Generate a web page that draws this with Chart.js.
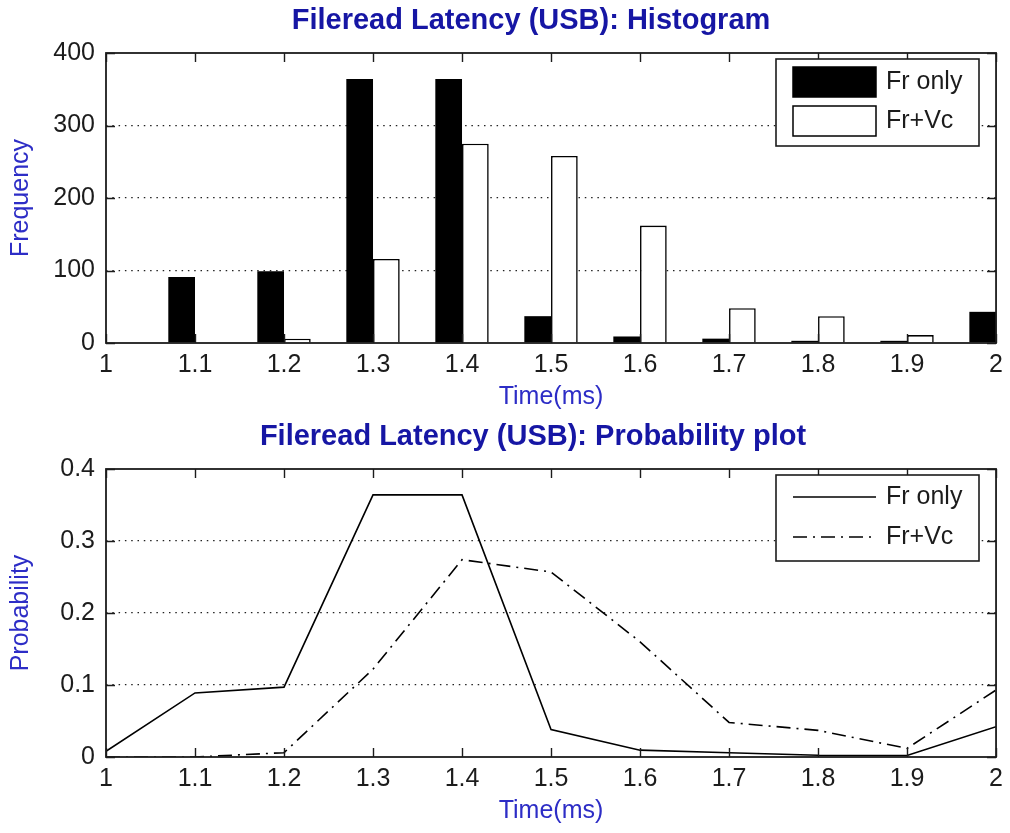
<!DOCTYPE html>
<html>
<head>
<meta charset="utf-8">
<title>Fileread Latency (USB)</title>
<script src="https://cdn.jsdelivr.net/npm/chart.js@4.4.0/dist/chart.umd.min.js"></script>
<style>
    html, body { margin: 0; padding: 0; background: #fff; }
    #wrap { position: relative; width: 1010px; height: 833px; }
    .panel { position: absolute; left: 0; width: 1010px; }
    #hist-panel { top: 0; height: 415px; }
    #prob-panel { top: 415px; height: 418px; }
    canvas { display: block; }
</style>
</head>
<body>
<div id="wrap">
    <div class="panel" id="hist-panel"><canvas id="chart-hist" width="1010" height="415"></canvas></div>
    <div class="panel" id="prob-panel"><canvas id="chart-prob" width="1010" height="418"></canvas></div>
</div>
<script>
// Latency bins (ms)
const timeBins = [1.0, 1.1, 1.2, 1.3, 1.4, 1.5, 1.6, 1.7, 1.8, 1.9, 2.0];
const timeTickLabels = ['1', '1.1', '1.2', '1.3', '1.4', '1.5', '1.6', '1.7', '1.8', '1.9', '2'];
const freqTickLabels = ['0', '100', '200', '300', '400'];
const probTickLabels = ['0', '0.1', '0.2', '0.3', '0.4'];
const seriesNames = ['Fr only', 'Fr+Vc'];

// Histogram counts per bin
const frOnlyCounts = [8, 91, 99, 364, 364, 37, 9, 6, 3, 3, 43];
const frVcCounts = [0, 0, 6, 116, 275, 258, 162, 48, 37, 11, 94];

// Probability per bin
const frOnlyProb = [0.008, 0.089, 0.097, 0.364, 0.364, 0.038, 0.0095, 0.006, 0.0025, 0.002, 0.042];
const frVcProb = [0, 0, 0.006, 0.122, 0.274, 0.257, 0.16, 0.048, 0.037, 0.012, 0.093];

const TITLE_BLUE = '#1616a4';
const LABEL_BLUE = '#2d2dc6';
const INK = '#1c1c1c';
const FONT = "'Liberation Sans', Arial, sans-serif";

Chart.defaults.font.family = FONT;
Chart.defaults.color = INK;

function points(ys) {
    return timeBins.map((t, i) => ({ x: t, y: ys[i] }));
}

// Bold blue heading above each panel
const panelTitle = {
    id: 'panelTitle',
    afterDraw(chart, args, opts) {
        const ctx = chart.ctx;
        ctx.save();
        ctx.fillStyle = TITLE_BLUE;
        ctx.font = 'bold 29px ' + FONT;
        ctx.textAlign = 'center';
        ctx.textBaseline = 'middle';
        ctx.fillText(opts.text, opts.x, opts.y);
        ctx.restore();
    }
};

// Box around the plot area with inward ticks on all four sides
const axisBox = {
    id: 'axisBox',
    afterDatasetsDraw(chart) {
        const { ctx, chartArea: a, scales: { x, y } } = chart;
        ctx.save();
        ctx.strokeStyle = INK;
        ctx.lineWidth = 1.4;
        ctx.beginPath();
        x.ticks.forEach(t => {
            const px = Math.round(x.getPixelForValue(t.value)) + 0.5;
            ctx.moveTo(px, a.bottom); ctx.lineTo(px, a.bottom - 9);
            ctx.moveTo(px, a.top); ctx.lineTo(px, a.top + 9);
        });
        y.ticks.forEach(t => {
            const py = Math.round(y.getPixelForValue(t.value)) + 0.5;
            ctx.moveTo(a.left, py); ctx.lineTo(a.left + 9, py);
            ctx.moveTo(a.right, py); ctx.lineTo(a.right - 9, py);
        });
        ctx.stroke();
        ctx.lineWidth = 1.8;
        ctx.strokeRect(a.left, a.top, a.right - a.left, a.bottom - a.top);
        ctx.restore();
    }
};

// Boxed legend in the upper right corner
const boxLegend = {
    id: 'boxLegend',
    afterDraw(chart, args, opts) {
        const ctx = chart.ctx;
        const [bx, by, bw, bh] = opts.box;
        ctx.save();
        ctx.fillStyle = '#fff';
        ctx.fillRect(bx, by, bw, bh);
        ctx.strokeStyle = INK;
        ctx.lineWidth = 1.6;
        ctx.strokeRect(bx, by, bw, bh);
        chart.data.datasets.forEach((ds, i) => {
            const cy = opts.rows[i];
            const x0 = bx + 17, x1 = bx + 100;
            if (opts.kind === 'bar') {
                ctx.fillStyle = ds.backgroundColor;
                ctx.fillRect(x0, cy - 15, x1 - x0, 30);
                ctx.lineWidth = 1.5;
                ctx.strokeStyle = '#000';
                ctx.strokeRect(x0, cy - 15, x1 - x0, 30);
            } else {
                ctx.strokeStyle = ds.borderColor;
                ctx.lineWidth = ds.borderWidth;
                ctx.setLineDash(ds.borderDash || []);
                ctx.beginPath();
                ctx.moveTo(x0, cy); ctx.lineTo(x1, cy);
                ctx.stroke();
                ctx.setLineDash([]);
            }
            ctx.fillStyle = INK;
            ctx.font = '25px ' + FONT;
            ctx.textBaseline = 'middle';
            ctx.fillText(ds.label, bx + 110, cy);
        });
        ctx.restore();
    }
};

function xAxis(height, titlePad) {
    return {
        type: 'linear',
        min: 1, max: 2,
        offset: false,
        afterFit(s) { s.height = height; },
        grid: { display: false, drawTicks: false, offset: false },
        border: { display: false },
        ticks: {
            stepSize: 0.1,
            autoSkip: false,
            maxRotation: 0,
            padding: 7,
            font: { size: 25 },
            color: INK,
            callback: v => timeTickLabels[Math.round((v - 1) * 10)]
        },
        title: {
            display: true, text: 'Time(ms)', color: LABEL_BLUE,
            font: { size: 25, lineHeight: 1.2 },
            padding: { top: 0, bottom: titlePad }
        }
    };
}

function yAxis(max, step, labels, titleText) {
    return {
        min: 0, max: max,
        afterFit(s) { s.width = 106; },
        grid: {
            drawTicks: false,
            color: ctx => (ctx.index === 0 || ctx.index === labels.length - 1) ? 'rgba(0,0,0,0)' : '#222',
            lineWidth: 1.2
        },
        border: { display: false, dash: [1.5, 4.8] },
        ticks: {
            stepSize: step,
            padding: 11,
            font: { size: 25 },
            color: INK,
            callback: (v, i) => labels[i]
        },
        title: {
            display: true, text: titleText, color: LABEL_BLUE,
            font: { size: 25, lineHeight: 1.2 },
            padding: { top: 6, bottom: 0 }
        }
    };
}

// Histogram
new Chart(document.getElementById('chart-hist'), {
    type: 'bar',
    data: {
        datasets: [
            { label: seriesNames[0], data: points(frOnlyCounts), backgroundColor: '#000', borderColor: '#000', borderWidth: 0 },
            {
                label: seriesNames[1], data: points(frVcCounts), backgroundColor: '#fff', borderColor: '#000',
                // empty bins leave no outline
                borderWidth: ctx => (ctx.raw && ctx.raw.y > 0) ? 1.6 : 0
            }
        ]
    },
    options: {
        responsive: false,
        animation: false,
        events: [],
        categoryPercentage: 0.6,
        barPercentage: 1.0,
        layout: { padding: { left: 0, right: 11, top: 53, bottom: 0 } },
        scales: {
            x: xAxis(72, 3),
            y: yAxis(400, 100, freqTickLabels, 'Frequency')
        },
        plugins: {
            legend: { display: false },
            tooltip: { enabled: false },
            title: { display: false },
            panelTitle: { text: 'Fileread Latency (USB): Histogram', x: 531, y: 21 },
            boxLegend: { kind: 'bar', box: [776, 59, 203, 87], rows: [82, 121] }
        }
    },
    plugins: [axisBox, boxLegend, panelTitle]
});

// Probability plot
new Chart(document.getElementById('chart-prob'), {
    type: 'line',
    data: {
        datasets: [
            { label: seriesNames[0], data: points(frOnlyProb), borderColor: '#000', borderWidth: 1.6, pointRadius: 0, tension: 0 },
            { label: seriesNames[1], data: points(frVcProb), borderColor: '#000', borderWidth: 1.6, borderDash: [14, 6, 2, 6], pointRadius: 0, tension: 0 }
        ]
    },
    options: {
        responsive: false,
        animation: false,
        events: [],
        layout: { padding: { left: 0, right: 11, top: 54, bottom: 0 } },
        scales: {
            x: xAxis(76, 7),
            y: yAxis(0.4, 0.1, probTickLabels, 'Probability')
        },
        plugins: {
            legend: { display: false },
            tooltip: { enabled: false },
            title: { display: false },
            panelTitle: { text: 'Fileread Latency (USB): Probability plot', x: 533, y: 22 },
            boxLegend: { kind: 'line', box: [776, 60, 203, 86], rows: [82, 122] }
        }
    },
    plugins: [axisBox, boxLegend, panelTitle]
});
</script>
</body>
</html>
